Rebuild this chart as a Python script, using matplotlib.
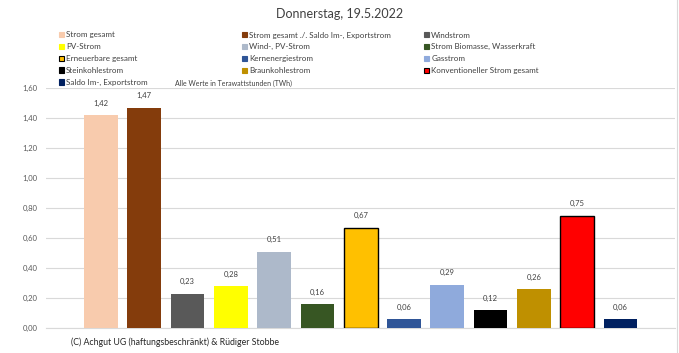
import matplotlib
matplotlib.use("Agg")
from matplotlib import pyplot as plt
from matplotlib.patches import Patch

plt.rcParams['font.family'] = ['Lato', 'DejaVu Sans']

labels = ['Strom gesamt', 'Strom gesamt ./. Saldo Im-, Exportstrom', 'Windstrom',
          'PV-Strom', 'Wind-, PV-Strom', 'Strom Biomasse, Wasserkraft',
          'Erneuerbare gesamt', 'Kernenergiestrom', 'Gasstrom',
          'Steinkohlestrom', 'Braunkohlestrom', 'Konventioneller Strom gesamt',
          'Saldo Im-, Exportstrom']
values = [1.42, 1.47, 0.23, 0.28, 0.51, 0.16, 0.67, 0.06, 0.29, 0.12, 0.26, 0.75, 0.06]
colors = ['#F8CBAD', '#843C0C', '#595959', '#FFFF00', '#ADB9CA', '#375623',
          '#FFC000', '#2F5597', '#8FAADC', '#000000', '#BF9000', '#FF0000', '#002060']
outlined = ['Erneuerbare gesamt', 'Konventioneller Strom gesamt']
yticks = [0.0, 0.2, 0.4, 0.6, 0.8, 1.0, 1.2, 1.4, 1.6]

W, H = 679, 353
fig = plt.figure(figsize=(W / 100, H / 100), dpi=100)
ax = fig.add_axes([46 / W, 25 / H, (675 - 46) / W, (328 - 88) / H])

x = list(range(len(values)))
edges = ['black' if l in outlined else 'none' for l in labels]
bars = ax.bar(x, values, width=0.78, color=colors, edgecolor=edges, linewidth=1.0, zorder=3)

for xi, v in zip(x, values):
    ax.annotate(f'{v:.2f}'.replace('.', ','), (xi, v), xytext=(0, 6),
                textcoords='offset points', ha='center', va='bottom',
                fontsize=5.5, color='#404040')

ax.set_xlim(-1.27, 13.26)
ax.set_ylim(0, 1.6)
ax.set_yticks(yticks)
ax.set_yticklabels([f'{t:.2f}'.replace('.', ',') for t in yticks], fontsize=5.5, color='#595959')
ax.set_xticks([])
ax.tick_params(axis='y', length=0, pad=6)
ax.grid(axis='y', color='#D9D9D9', linewidth=0.8, zorder=0)
for s in ['top', 'right', 'left']:
    ax.spines[s].set_visible(False)
ax.spines['bottom'].set_color('#D9D9D9')

fig.text(0.5, 1 - 14 / H, 'Donnerstag, 19.5.2022', ha='center', va='center',
         fontsize=9, color='#404040')
fig.text(175 / W, 1 - 83 / H, 'Alle Werte in Terawattstunden (TWh)', ha='left', va='center',
         fontsize=5, color='#404040')
fig.text(71 / W, 1 - 342 / H, '(C) Achgut UG (haftungsbeschränkt) & Rüdiger Stobbe',
         ha='left', va='center', fontsize=6.3, color='#262626')

# legend: three columns, filled row by row like the original
columns = [[0, 3, 6, 9, 12], [1, 4, 7, 10], [2, 5, 8, 11]]
col_x = [59, 242, 424]
for cx, idx in zip(col_x, columns):
    handles = [Patch(facecolor=colors[i], edgecolor='black' if labels[i] in outlined else colors[i],
                     linewidth=0.8) for i in idx]
    fig.legend(handles, [labels[i] for i in idx], loc='upper left',
               bbox_to_anchor=(cx / W, 1 - 31.5 / H), frameon=False, fontsize=5.8,
               handlelength=0.65, handleheight=0.65, handletextpad=0.25,
               labelspacing=0.6, borderpad=0, borderaxespad=0, labelcolor='#404040')

fig.add_artist(plt.Line2D([677 / W, 677 / W], [0, 1], color='#D9D9D9', linewidth=0.8))

plt.savefig('out.png', dpi=100)
